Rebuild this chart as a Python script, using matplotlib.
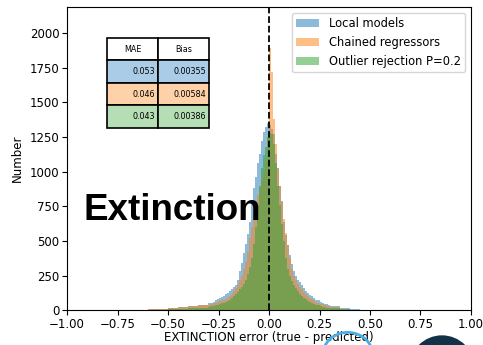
import numpy as np
import matplotlib.pyplot as plt
from matplotlib.patches import Arc, Ellipse

# bin edges: wide bins in the tails, 0.01 bins in the core
tail_left = [-0.65, -0.60, -0.55, -0.50, -0.45, -0.40, -0.35]
core = [round(-0.30 + 0.01 * i, 2) for i in range(61)]
tail_right = [0.35, 0.40, 0.45, 0.50]
edges = np.array(tail_left + core + tail_right)

local_tail_l = [3, 6, 10, 15, 22, 30, 40]
local_core = [50, 55, 60, 70, 78, 85, 95, 105, 115, 125,
              140, 155, 170, 185, 215, 280, 340, 410, 480, 550,
              640, 790, 880, 960, 1060, 1130, 1220, 1290, 1320, 1350,
              1340, 1310, 1270, 1130, 1030, 900, 790, 640, 540, 470,
              400, 330, 280, 250, 220, 200, 180, 160, 140, 125,
              110, 100, 85, 75, 70, 60, 55, 48, 42, 38]
local_tail_r = [30, 15, 6, 2]

chained_tail_l = [3, 6, 10, 15, 20, 28, 36]
chained_core = [40, 45, 50, 55, 60, 65, 70, 75, 80, 90,
                105, 120, 140, 160, 185, 215, 250, 295, 350, 420,
                520, 600, 700, 780, 830, 880, 930, 990, 1080, 1250,
                1890, 1720, 1380, 1200, 1030, 900, 780, 660, 560, 470,
                380, 300, 250, 215, 190, 170, 150, 130, 115, 100,
                88, 78, 70, 62, 55, 48, 42, 37, 32, 28]
chained_tail_r = [22, 10, 4, 1]

outlier_tail_l = [1, 2, 4, 6, 9, 13, 19]
outlier_core = [25, 28, 32, 36, 40, 45, 50, 55, 60, 66,
                72, 85, 100, 115, 130, 150, 170, 190, 220, 260,
                310, 380, 480, 600, 760, 900, 1030, 1120, 1180, 1240,
                1280, 1270, 1200, 1060, 900, 760, 620, 500, 380, 300,
                250, 210, 185, 160, 140, 120, 105, 90, 78, 68,
                58, 50, 44, 38, 34, 30, 26, 22, 19, 16]
outlier_tail_r = [12, 5, 2, 1]

labels = ['Local models', 'Chained regressors', 'Outlier rejection P=0.2']
series = [local_tail_l + local_core + local_tail_r,
          chained_tail_l + chained_core + chained_tail_r,
          outlier_tail_l + outlier_core + outlier_tail_r]
colors = ['tab:blue', 'tab:orange', 'tab:green']

mae = ['0.053', '0.046', '0.043']
bias = ['0.00355', '0.00584', '0.00386']

fig = plt.figure(figsize=(4.83, 3.45), dpi=100)
ax = fig.add_axes([0.139, 0.101, 0.836, 0.879])

centers = (edges[:-1] + edges[1:]) / 2
for counts, c, lab in zip(series, colors, labels):
    ax.hist(centers, bins=edges, weights=counts, alpha=0.5, color=c, label=lab)

ax.axvline(0, color='black', linestyle='--', linewidth=1.3)
ax.set_xlim(-1, 1)
ax.set_ylim(0, 2190)
ax.set_xticks(np.arange(-1, 1.01, 0.25))
ax.tick_params(labelsize=8.5, pad=2)
ax.set_xlabel('EXTINCTION error (true - predicted)', fontsize=8.5, labelpad=0)
ax.set_ylabel('Number', fontsize=8.5)
ax.legend(loc='upper right', fontsize=8.3, borderaxespad=0.5)

# small table with the scores
cell_text = [['MAE', 'Bias']] + [[m, b] for m, b in zip(mae, bias)]
light = [(0.67, 0.80, 0.90), (1.0, 0.82, 0.66), (0.71, 0.87, 0.71)]
cell_colours = [['white', 'white']] + [[c, c] for c in light]
tab = ax.table(cellText=cell_text, cellColours=cell_colours,
               bbox=[0.099, 0.601, 0.252, 0.297])
tab.auto_set_font_size(False)
tab.set_fontsize(5.8)
for (r, col), cell in tab.get_celld().items():
    cell.set_linewidth(1.2)
    cell.get_text().set_ha('center' if r == 0 else 'right')
    if r > 0:
        cell.PAD = 0.06

fig.text(83 / 483, 1 - 220 / 345, 'Extinction', fontsize=26.5,
         fontweight='bold', family='Liberation Sans', va='baseline')

# slide leftovers at the bottom of the picture
fig.add_artist(Arc((0.72, -0.03), 0.104, 0.133, theta1=10, theta2=165,
                   transform=fig.transFigure, color='#4aaee6', linewidth=2))
fig.add_artist(Ellipse((0.915, -0.067), 0.1325, 0.186,
                       transform=fig.transFigure, color='#123047'))

fig.savefig('out.png', dpi=100)
